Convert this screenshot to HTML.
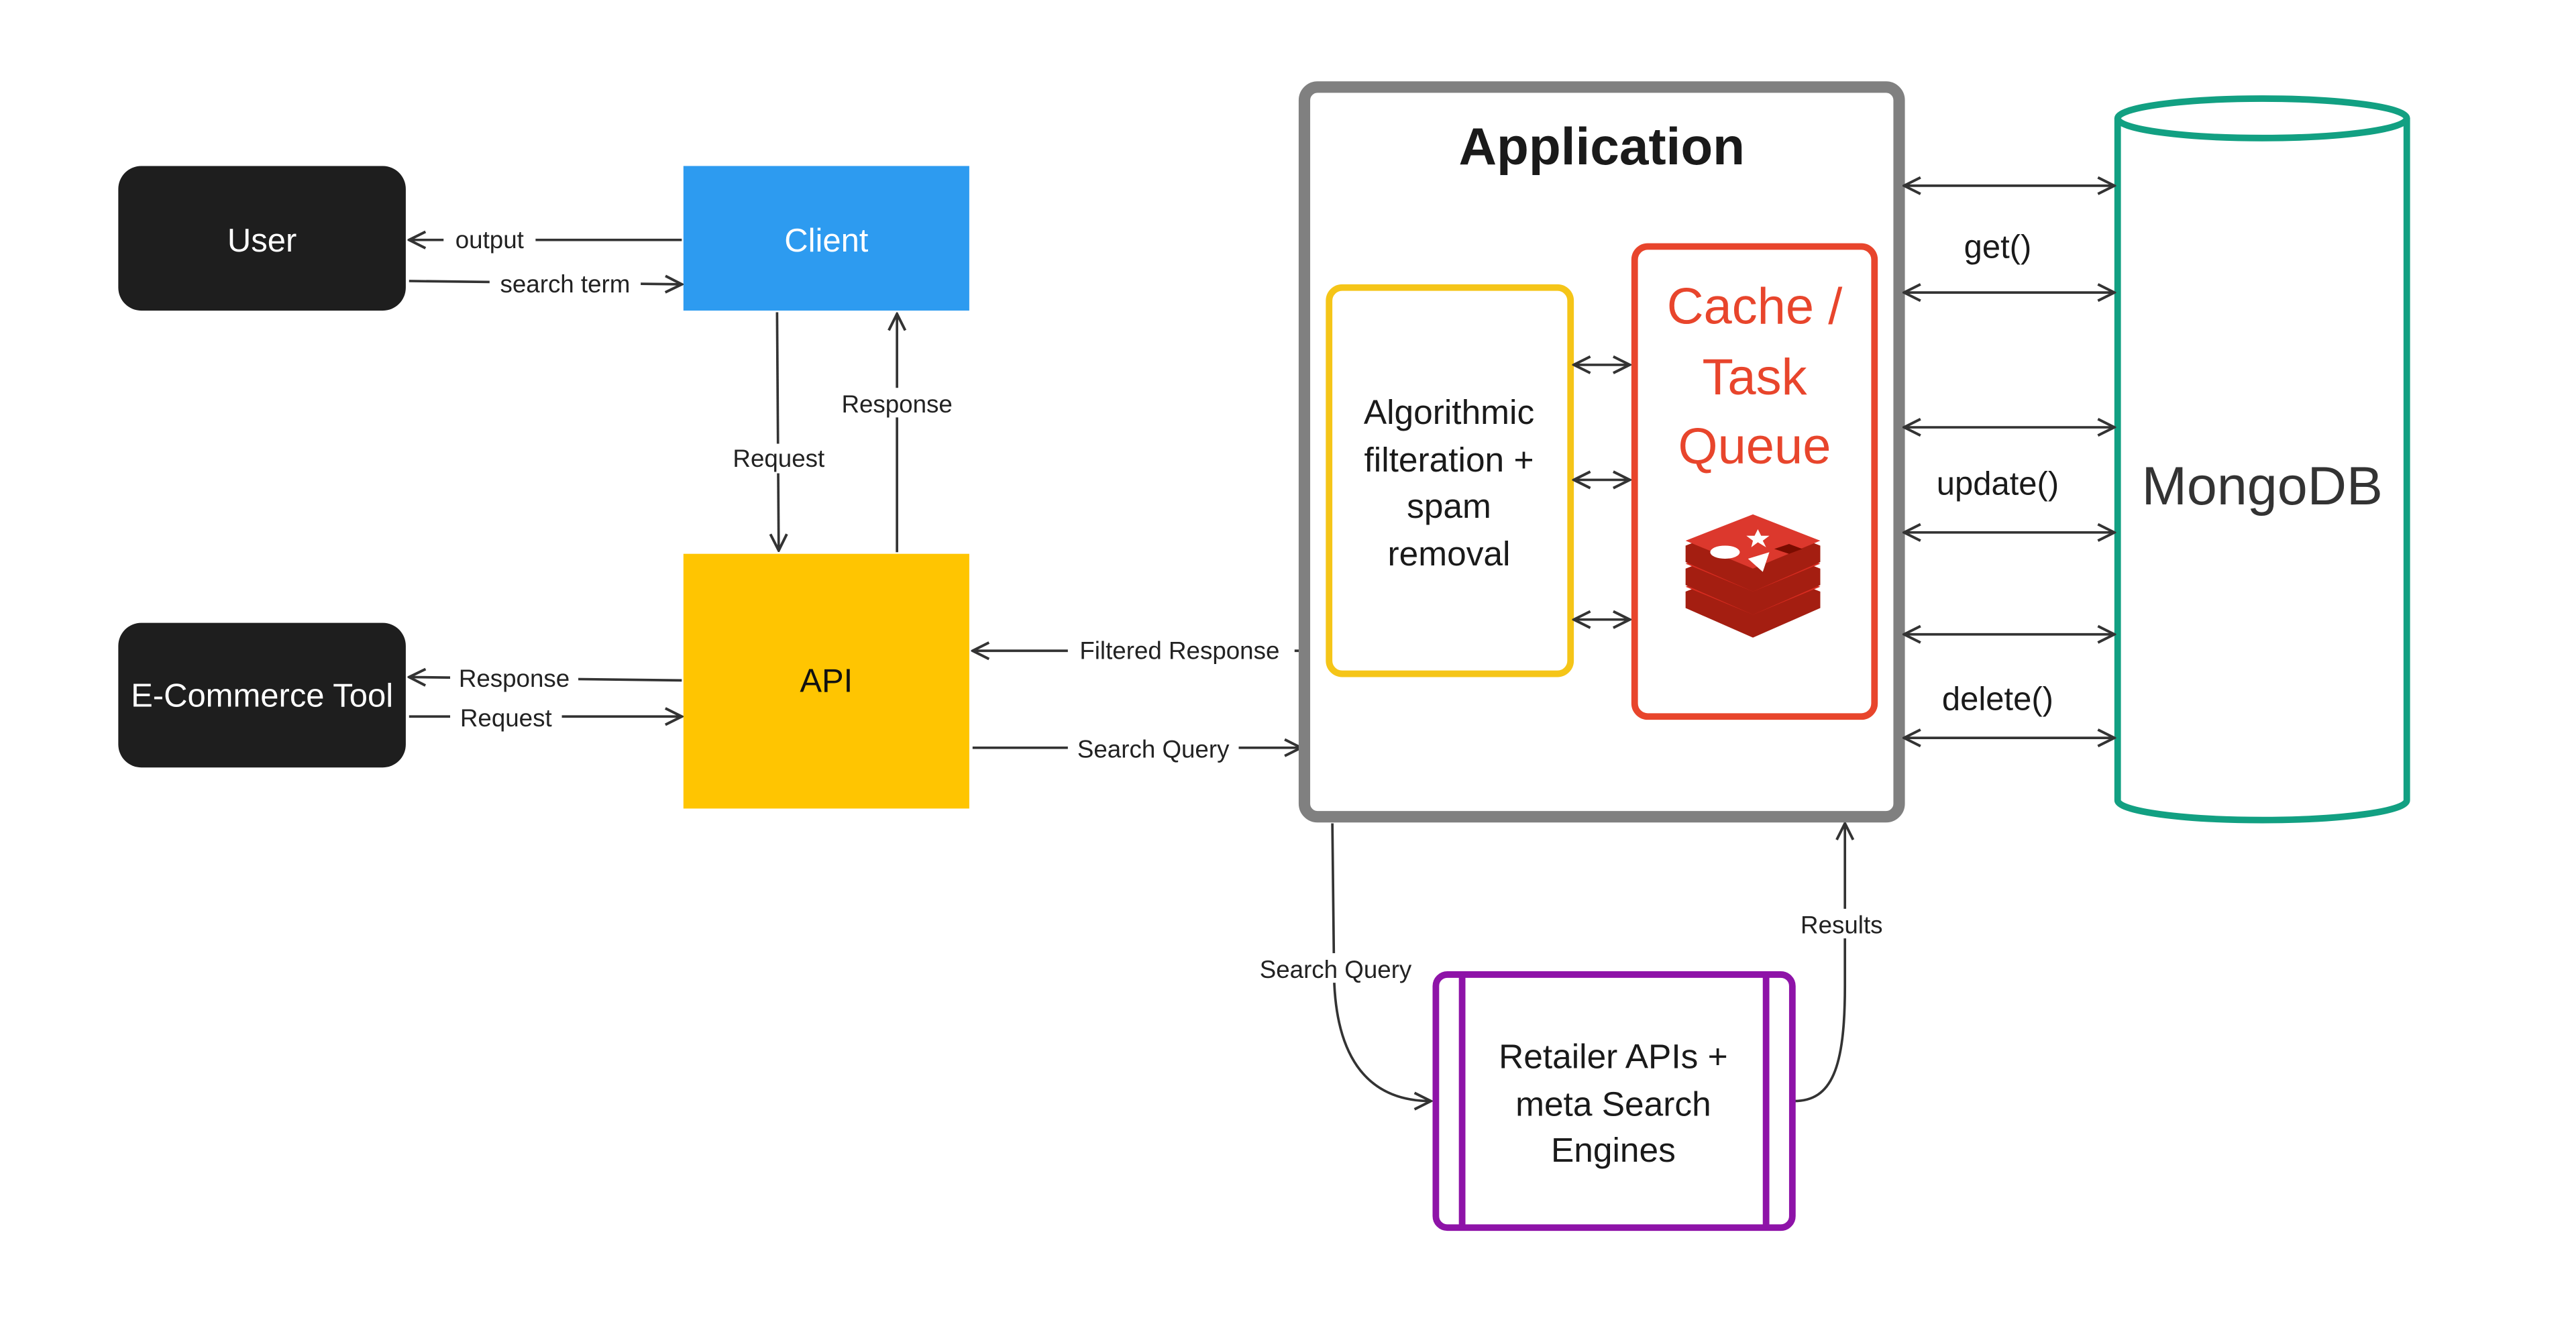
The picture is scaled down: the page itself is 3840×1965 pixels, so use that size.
<!DOCTYPE html>
<html><head><meta charset="utf-8"><style>
html,body{margin:0;padding:0;background:#fff;}
svg{display:block;}
text{font-family:"Liberation Sans",sans-serif;}
</style></head><body>
<svg width="3840" height="1965" viewBox="0 0 1568 802" preserveAspectRatio="none" xmlns="http://www.w3.org/2000/svg">
<defs>
<marker id="a" viewBox="0 0 12 12" refX="11" refY="6" markerWidth="12" markerHeight="12" markerUnits="userSpaceOnUse" orient="auto-start-reverse">
<path d="M1,1 L11,6 L1,11" fill="none" stroke="#333" stroke-width="1.6"/>
</marker>
</defs>
<rect width="1568" height="802" fill="#fff"/>

<!-- Left boxes -->
<rect x="72" y="101" width="175" height="88" rx="14" fill="#1e1e1e"/>
<text x="159.5" y="153" font-size="20" fill="#fff" text-anchor="middle">User</text>
<rect x="416" y="101" width="174" height="88" fill="#2d9bf0"/>
<text x="503" y="153" font-size="20" fill="#fff" text-anchor="middle">Client</text>
<rect x="72" y="379" width="175" height="88" rx="14" fill="#1e1e1e"/>
<text x="159.5" y="430" font-size="20" fill="#fff" text-anchor="middle">E-Commerce Tool</text>
<rect x="416" y="337" width="174" height="155" fill="#ffc501"/>
<text x="503" y="421" font-size="20" fill="#111" text-anchor="middle">API</text>

<!-- connectors left -->
<g stroke="#333" stroke-width="1.5" fill="none">
<line x1="415" y1="146" x2="249" y2="146" marker-end="url(#a)"/>
<path d="M249,171 L415,173" marker-end="url(#a)"/>
<path d="M473,190 L474,335" marker-end="url(#a)"/>
<path d="M546,336 L546,191" marker-end="url(#a)"/>
<path d="M415,414 L249,412" marker-end="url(#a)"/>
<line x1="249" y1="436" x2="415" y2="436" marker-end="url(#a)"/>
<line x1="792" y1="396" x2="592" y2="396" marker-end="url(#a)"/>
<line x1="592" y1="455" x2="792" y2="455" marker-end="url(#a)"/>
<path d="M811,501 L812,590 C812,640 830,670 871,670" marker-end="url(#a)"/>
<path d="M1092,670 C1115,670 1123,650 1123,600 L1123,501" marker-end="url(#a)"/>
</g>
<g font-size="15" fill="#222" text-anchor="middle">
<rect x="270" y="137" width="56" height="18" fill="#fff"/><text x="298" y="151">output</text>
<rect x="298" y="163" width="92" height="18" fill="#fff"/><text x="344" y="178">search term</text>
<rect x="440" y="270" width="68" height="18" fill="#fff"/><text x="474" y="284">Request</text>
<rect x="508" y="236" width="76" height="18" fill="#fff"/><text x="546" y="251">Response</text>
<rect x="274" y="404" width="78" height="18" fill="#fff"/><text x="313" y="418">Response</text>
<rect x="274" y="427" width="68" height="18" fill="#fff"/><text x="308" y="442">Request</text>
<rect x="650" y="387" width="138" height="18" fill="#fff"/><text x="718" y="401">Filtered Response</text>
<rect x="650" y="446" width="104" height="18" fill="#fff"/><text x="702" y="461">Search Query</text>
<rect x="762" y="580" width="102" height="18" fill="#fff"/><text x="813" y="595">Search Query</text>
<rect x="1093" y="553" width="58" height="18" fill="#fff"/><text x="1121" y="568">Results</text>
</g>

<!-- Application -->
<rect x="794" y="53" width="362" height="444" rx="8" fill="#fff" stroke="#808080" stroke-width="7"/>
<text x="975" y="100" font-size="32" font-weight="bold" fill="#1a1a1a" text-anchor="middle">Application</text>
<rect x="809" y="175" width="147" height="235" rx="8" fill="#fff" stroke="#f5c518" stroke-width="4"/>
<g font-size="21" fill="#1a1a1a" text-anchor="middle">
<text x="882" y="258">Algorithmic</text>
<text x="882" y="287">filteration +</text>
<text x="882" y="315">spam</text>
<text x="882" y="344">removal</text>
</g>
<rect x="995" y="150" width="146" height="286" rx="8" fill="#fff" stroke="#e8452c" stroke-width="4"/>
<g font-size="31" fill="#e8452c" text-anchor="middle">
<text x="1068" y="197">Cache /</text>
<text x="1068" y="240">Task</text>
<text x="1068" y="282">Queue</text>
</g>
<!-- redis icon -->
<g>
<path d="M1026,360 L1067,344 L1108,360 L1108,370 L1067,388 L1026,370 Z" fill="#a41e11"/>
<path d="M1026,357 L1067,341 L1108,357 L1067,374 Z" fill="#d82c20"/>
<path d="M1026,346 L1067,330 L1108,346 L1108,356 L1067,374 L1026,356 Z" fill="#a41e11"/>
<path d="M1026,343 L1067,327 L1108,343 L1067,360 Z" fill="#d82c20"/>
<path d="M1026,332 L1067,316 L1108,332 L1108,342 L1067,360 L1026,342 Z" fill="#a41e11"/>
<path d="M1026,329 L1067,313 L1108,329 L1067,346 Z" fill="#dc382d"/>
<ellipse cx="1050" cy="336" rx="9" ry="4" fill="#fff"/>
<path d="M1064,340 L1077,336 L1073,348 Z" fill="#fff"/>
<path d="M1070,322 L1072,326 L1077,326 L1073,329 L1075,333 L1070,330 L1066,333 L1067,329 L1063,326 L1068,326 Z" fill="#fff"/>
<path d="M1080,334 L1089,331 L1097,334 L1089,337 Z" fill="#7a0c00"/>
</g>
<g stroke="#333" stroke-width="1.5">
<line x1="958" y1="222" x2="992" y2="222" marker-start="url(#a)" marker-end="url(#a)"/>
<line x1="958" y1="292" x2="992" y2="292" marker-start="url(#a)" marker-end="url(#a)"/>
<line x1="958" y1="377" x2="992" y2="377" marker-start="url(#a)" marker-end="url(#a)"/>
</g>

<!-- MongoDB -->
<path d="M1289,72 L1289,487 A88,12 0 0 0 1465,487 L1465,72" fill="#fff" stroke="#12a082" stroke-width="4"/>
<ellipse cx="1377" cy="72" rx="88" ry="12" fill="#fff" stroke="#12a082" stroke-width="4"/>
<text x="1377" y="307" font-size="33" fill="#333" text-anchor="middle">MongoDB</text>
<g stroke="#333" stroke-width="1.5">
<line x1="1159" y1="113" x2="1287" y2="113" marker-start="url(#a)" marker-end="url(#a)"/>
<line x1="1159" y1="178" x2="1287" y2="178" marker-start="url(#a)" marker-end="url(#a)"/>
<line x1="1159" y1="260" x2="1287" y2="260" marker-start="url(#a)" marker-end="url(#a)"/>
<line x1="1159" y1="324" x2="1287" y2="324" marker-start="url(#a)" marker-end="url(#a)"/>
<line x1="1159" y1="386" x2="1287" y2="386" marker-start="url(#a)" marker-end="url(#a)"/>
<line x1="1159" y1="449" x2="1287" y2="449" marker-start="url(#a)" marker-end="url(#a)"/>
</g>
<g font-size="20" fill="#1a1a1a" text-anchor="middle">
<text x="1216" y="157">get()</text>
<text x="1216" y="301">update()</text>
<text x="1216" y="432">delete()</text>
</g>

<!-- Retailer -->
<rect x="874" y="593" width="217" height="154" rx="7" fill="#fff" stroke="#8e13a8" stroke-width="4"/>
<line x1="890" y1="593" x2="890" y2="747" stroke="#8e13a8" stroke-width="4"/>
<line x1="1075" y1="593" x2="1075" y2="747" stroke="#8e13a8" stroke-width="4"/>
<g font-size="21" fill="#1a1a1a" text-anchor="middle">
<text x="982" y="650">Retailer APIs +</text>
<text x="982" y="679">meta Search</text>
<text x="982" y="707">Engines</text>
</g>
</svg>
</body></html>
